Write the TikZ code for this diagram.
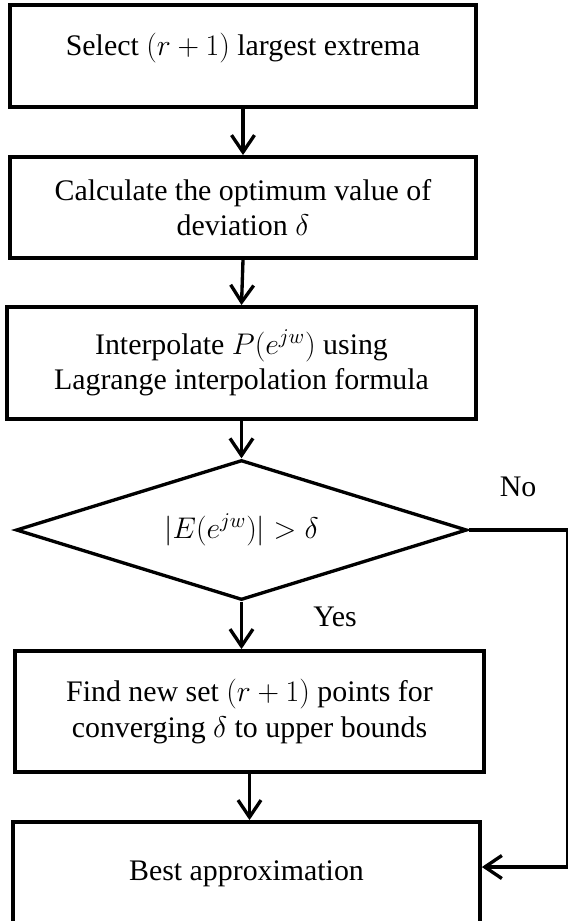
\RequirePackage{fix-cm}
\documentclass[tikz,border=0pt]{standalone}
\usepackage{fontspec}
\setmainfont{Liberation Serif}
\usetikzlibrary{arrows.meta,shapes.geometric}

\begin{document}
\begin{tikzpicture}[
	x=0.02cm, y=-0.02cm,
	line join=miter,
	>={Straight Barb[length=0.34cm,width=0.46cm]},
	font=\fontsize{17}{20}\selectfont,
	stepbox/.style n args={2}{draw, line width=2.2pt, align=center, inner sep=0pt,
		minimum width=#1, minimum height=#2},
	testbox/.style={draw, diamond, line width=1.9pt, inner sep=0pt, aspect=3.2,
		minimum width=9.02cm, minimum height=2.8cm},
	flow/.style={->, line width=1.9pt}
	]
	
	% Rahmen
	\useasboundingbox (0,0) rectangle (568,921);
	
	% Schritte
	\node[stepbox={9.32cm}{2.04cm}, text depth=0.45cm] (select) at (243,56)
		{Select $(r+1)$ largest extrema};
	\node[stepbox={9.32cm}{2.02cm}] (calc) at (243,207.5)
		{Calculate the optimum value of\\ deviation $\delta$};
	\node[stepbox={9.38cm}{2.24cm}] (interp) at (241.5,363)
		{Interpolate $P\bigl(e^{jw}\bigr)$ using\\ Lagrange interpolation formula};
	\node[testbox] (check) at (241.5,530)
		{$\bigl|E\bigl(e^{jw}\bigr)\bigr| > \delta$};
	\node[stepbox={9.38cm}{2.42cm}] (newset) at (249.5,711.5)
		{Find new set $(r+1)$ points for\\ converging $\delta$ to upper bounds};
	\node[stepbox={9.34cm}{2.08cm}] (best) at (246.5,874)
		{Best approximation};
	
	% Verbindungen
	\draw[flow] (select.south) -- (calc.north);
	\draw[flow] (calc.south) -- (interp.north);
	\draw[flow] (interp.south) -- (check.north);
	\draw[flow] (check.south) -- (check.south |- newset.north);
	\draw[flow] (newset.south) -- (newset.south |- best.north);
	
	% Nein-Zweig
	\coordinate (edge) at (568,867);
	\draw[flow] (check.east) -| (edge) -- (edge -| best.east);
	
	% Beschriftungen
	\node (no) at (518,487) {No};
	\node (yes) at (335,617) {Yes};
	
\end{tikzpicture}
\end{document}
